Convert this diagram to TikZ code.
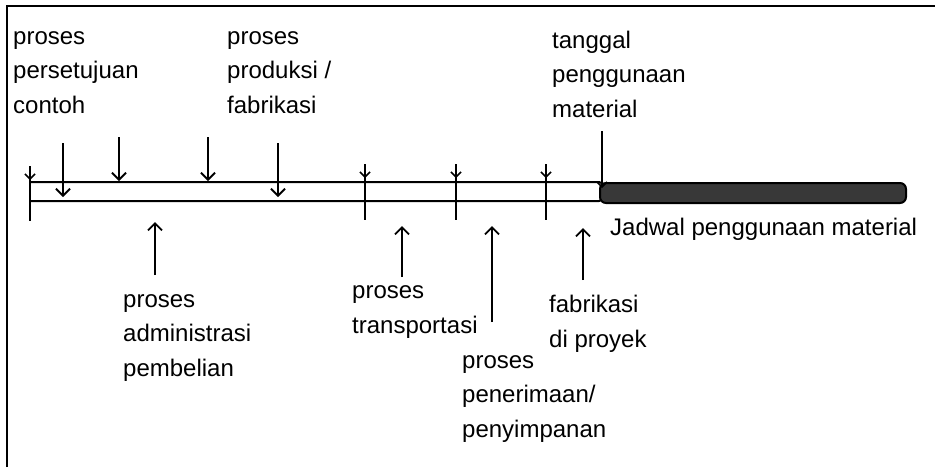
\documentclass[tikz,border=0pt]{standalone}
\usepackage{fontspec}
\setmainfont{Liberation Sans}
\usetikzlibrary{arrows.meta}

\tikzset{
  lbl/.style={font=\fontsize{24}{34.5}\selectfont,align=left,anchor=base west,inner sep=0pt},
  pointer/.style={line width=1.8pt,-{Straight Barb[length=7pt,width=14pt,line width=1.9pt]}},
  flag/.style={line width=1.5pt,-{Straight Barb[length=5pt,width=10pt,line width=1.5pt]}},
  tickline/.style={line width=1.5pt},
  barline/.style={line width=2pt},
}

\begin{document}
\begin{tikzpicture}[x=1pt,y=-1pt]
\useasboundingbox (0,0) rectangle (935,467);
% frame (cut off right and below)
\draw[line width=2.2pt] (7,467) -- (7,6) -- (935,6);

% the time bar, open part and the used part
\draw[barline,rounded corners=4pt] (30,182) -- (603,182) -- (603,201) -- (30,201);
\draw[barline,rounded corners=6pt,fill=black!78] (600,183) rectangle (906,203);

% ticks with small heads
\coordinate (k0) at (30,166);   \coordinate (k0e) at (30,221);
\coordinate (k1) at (365,164);  \coordinate (k1e) at (365,220);
\coordinate (k2) at (456,164);  \coordinate (k2e) at (456,220);
\coordinate (k3) at (546,164);  \coordinate (k3e) at (546,220);
\foreach \k in {k0,k1,k2,k3} {
  \draw[tickline] (\k) -- (\k e);
  \draw[flag] (\k) -- ([yshift=-14pt]\k);
}

% labels above (placed by the baseline of their last line)
\node[lbl] (setuju) at (13,113) {proses\\persetujuan\\contoh};
\node[lbl] (produksi) at (227,113) {proses\\produksi /\\fabrikasi};
\node[lbl] (tanggal) at (552,117) {tanggal\\penggunaan\\material};

% labels below
\node[lbl] (admin) at (123,376) {proses\\administrasi\\pembelian};
\node[lbl] (transport) at (352,333) {proses\\transportasi};
\node[lbl] (terima) at (462,437) {proses\\penerimaan/\\penyimpanan};
\node[lbl] (proyek) at (549,347) {fabrikasi\\di proyek};
\node[lbl] (jadwal) at (610,235) {Jadwal penggunaan material};

% arrows from above
\coordinate (a1) at (63,143);   \coordinate (a1e) at (63,197);
\coordinate (a2) at (119,137);  \coordinate (a2e) at (119,181);
\coordinate (a3) at (208,137);  \coordinate (a3e) at (208,181);
\coordinate (a4) at (278,143);  \coordinate (a4e) at (278,197);
\draw[pointer] (a1) -- (a1e);
\draw[pointer] (a2) -- (a2e);
\draw[pointer] (a3) -- (a3e);
\draw[pointer] (a4) -- (a4e);
\coordinate (t1) at (602,131);  \coordinate (t1e) at (602,188);
\draw[flag] (t1) -- (t1e);

% arrows from below
\coordinate (b1) at (155,275);  \coordinate (b1e) at (155,222);
\coordinate (b2) at (402,277);  \coordinate (b2e) at (402,226);
\coordinate (b3) at (492,322);  \coordinate (b3e) at (492,226);
\coordinate (b4) at (583,280);  \coordinate (b4e) at (583,228);
\draw[pointer] (b1) -- (b1e);
\draw[pointer] (b2) -- (b2e);
\draw[pointer] (b3) -- (b3e);
\draw[pointer] (b4) -- (b4e);
\end{tikzpicture}
\end{document}
